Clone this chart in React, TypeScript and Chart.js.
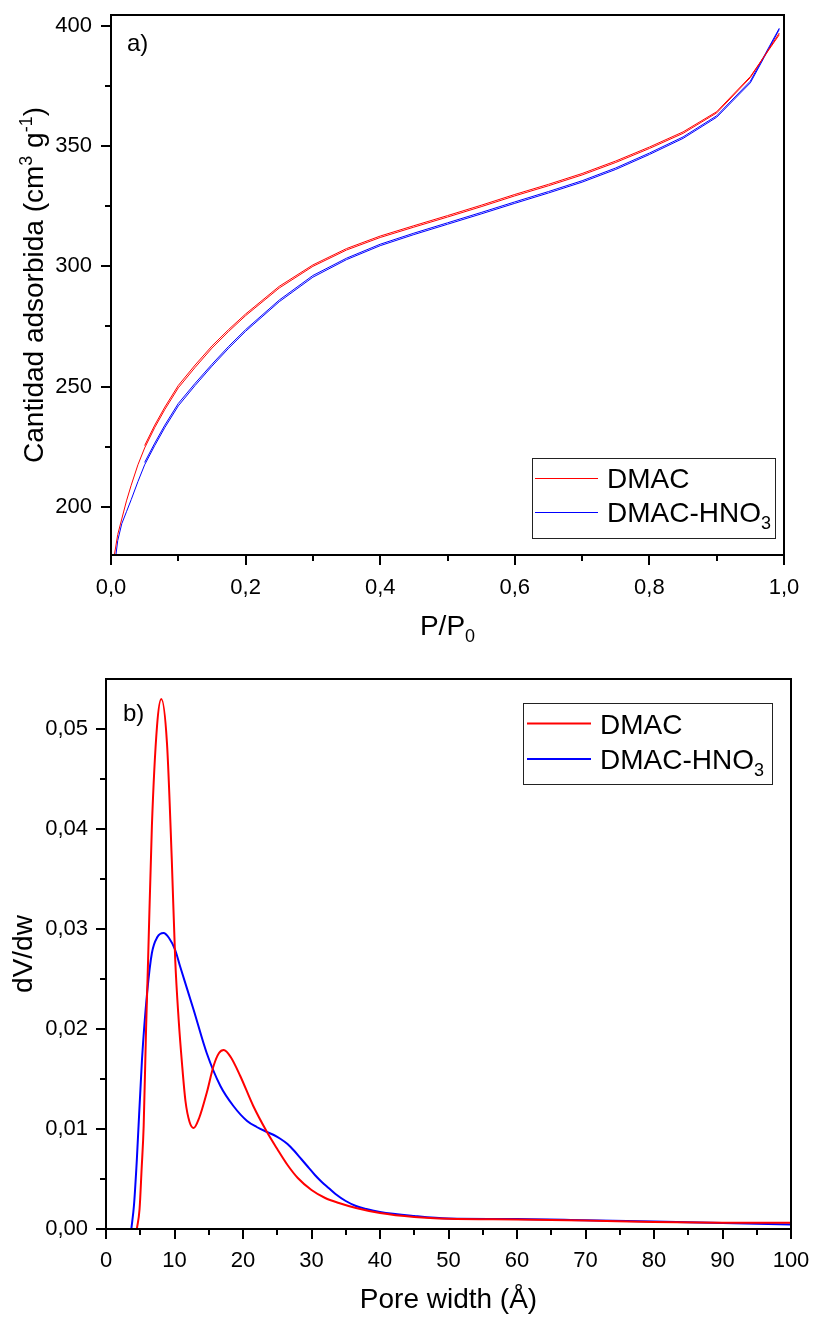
import React, { useEffect, useRef } from 'react';
import { Chart, registerables } from 'chart.js';

Chart.register(...registerables);

const FONT = "'Liberation Sans', Arial, Helvetica, sans-serif";

// ---------- Panel a) N2 isotherms ----------
const isoP = [0.005, 0.01, 0.016, 0.023, 0.03, 0.04, 0.05, 0.065, 0.08, 0.1, 0.125, 0.15, 0.175, 0.2, 0.25, 0.3, 0.35, 0.4, 0.45, 0.5, 0.55, 0.6, 0.65, 0.7, 0.75, 0.8, 0.85, 0.9, 0.95, 0.993];
const dmacAds = [180, 188.5, 195, 202.5, 209, 217.5, 224.5, 233, 240.5, 249.5, 258, 266, 273, 279.5, 291, 300, 306.8, 312, 316.3, 320.5, 324.8, 329.3, 333.5, 338, 343.2, 349, 355.3, 363.8, 378.5, 397];
const hno3Ads = [175, 186, 193, 198, 203, 210.5, 217.5, 225.5, 233, 242, 250.5, 258.5, 266, 273, 285.3, 295.5, 302.8, 308.6, 313.2, 317.5, 321.8, 326.2, 330.5, 335, 340.3, 346.5, 353.2, 362, 376.3, 398.5];
const isoPDes = [0.05, 0.065, 0.08, 0.1, 0.125, 0.15, 0.175, 0.2, 0.25, 0.3, 0.35, 0.4, 0.45, 0.5, 0.55, 0.6, 0.65, 0.7, 0.75, 0.8, 0.85, 0.9, 0.95, 0.993];
const dmacDes = [225.5, 234, 241.5, 250.5, 259, 266.9, 273.8, 280.2, 291.7, 300.6, 307.4, 312.6, 316.9, 321.1, 325.4, 329.9, 334.1, 338.6, 343.8, 349.6, 355.9, 364.3, 378.9, 396.3];
const hno3Des = [218.5, 226.5, 234, 243, 251.4, 259.3, 266.8, 273.7, 286, 296.2, 303.4, 309.2, 313.8, 318.1, 322.4, 326.8, 331.1, 335.6, 340.9, 347.1, 353.8, 362.6, 377, 399];

const isoXTicks = [0, 0.2, 0.4, 0.6, 0.8, 1.0];
const isoXMinor = [0.1, 0.3, 0.5, 0.7, 0.9];
const isoYTicks = [200, 250, 300, 350, 400];
const isoYMinor = [225, 275, 325, 375];

// ---------- Panel b) pore size distribution ----------
const poreDmac = [4.5, 4.9, 5.2, 5.5, 5.85, 6.15, 6.7, 7.45, 8.07, 8.9, 9.6, 10.1, 10.6, 11.1, 11.6, 12.2, 12.8, 13.6, 14.7, 15.7, 16.5, 17.2, 18.2, 19.6, 21.5, 23.5, 25, 26.5, 28, 30, 32, 34, 36.5, 40, 45, 50, 60, 70, 80, 90, 100];
const dvdwDmac = [0, 0.002, 0.006, 0.0103, 0.02, 0.027, 0.0403, 0.0503, 0.053, 0.0486, 0.037, 0.027, 0.021, 0.0165, 0.0128, 0.0107, 0.0101, 0.0111, 0.0136, 0.0163, 0.0176, 0.0179, 0.0172, 0.0153, 0.0123, 0.0097, 0.008, 0.0064, 0.0051, 0.0039, 0.0031, 0.0026, 0.0021, 0.0016, 0.0012, 0.00102, 0.00095, 0.00085, 0.0007, 0.00063, 0.00062];
const poreHno3 = [3.7, 4.1, 4.5, 5.25, 6.0, 6.7, 7.5, 8.4, 9.2, 10.1, 10.8, 12.8, 14.7, 16.7, 18.6, 20.6, 22, 23.5, 24.5, 25.5, 26.5, 27.5, 28.5, 29.5, 30.5, 31.5, 32.5, 33.5, 35, 36.5, 38, 40, 45, 50, 60, 70, 80, 90, 100];
const dvdwHno3 = [0, 0.0025, 0.0069, 0.0169, 0.0236, 0.0276, 0.0292, 0.0296, 0.0291, 0.0279, 0.0263, 0.0219, 0.0176, 0.0143, 0.0123, 0.0108, 0.0102, 0.0097, 0.0094, 0.009, 0.0085, 0.0078, 0.007, 0.0062, 0.0054, 0.0047, 0.0041, 0.0035, 0.0028, 0.0023, 0.002, 0.0017, 0.0013, 0.00105, 0.001, 0.00088, 0.00075, 0.0006, 0.00045];

const psdXTicks = [0, 10, 20, 30, 40, 50, 60, 70, 80, 90, 100];
const psdXMinor = [5, 15, 25, 35, 45, 55, 65, 75, 85, 95];
const psdYTicks = [0, 0.01, 0.02, 0.03, 0.04, 0.05];
const psdYMinor = [0.005, 0.015, 0.025, 0.035, 0.045];

const seriesNames = ['DMAC', 'DMAC-HNO'];
const RED = '#ff0000';
const BLUE = '#0000ff';

type Run = { t: string; s?: 'sup' | 'sub' };

function drawRuns(ctx: CanvasRenderingContext2D, runs: Run[], x: number, y: number, size: number, align: 'left' | 'center') {
  const small = Math.round(size * 0.65);
  const widths = runs.map((r) => {
    ctx.font = `${r.s ? small : size}px ${FONT}`;
    return ctx.measureText(r.t).width;
  });
  const total = widths.reduce((a, b) => a + b, 0);
  let cx = align === 'center' ? x - total / 2 : x;
  ctx.textAlign = 'left';
  ctx.textBaseline = 'alphabetic';
  runs.forEach((r, i) => {
    ctx.font = `${r.s ? small : size}px ${FONT}`;
    const dy = r.s === 'sup' ? -size * 0.38 : r.s === 'sub' ? size * 0.24 : 0;
    ctx.fillText(r.t, cx, y + dy);
    cx += widths[i];
  });
}

interface LegendItem { color: string; y: number; baseline: number; runs: Run[] }
interface Deco {
  xMajor: number[]; xMinor: number[]; yMajor: number[]; yMinor: number[];
  xTitle: Run[]; xTitleX: number; xTitleY: number;
  yTitle: Run[]; yTitleX: number; yTitleY: number;
  titleSize: number;
  label: string; labelX: number; labelY: number;
  box: [number, number, number, number];
  lineX: [number, number]; textX: number; lineW: number;
  items: LegendItem[];
}

function makeDeco(d: Deco) {
  return {
    id: 'deco',
    afterDraw(chart: any) {
      const ctx: CanvasRenderingContext2D = chart.ctx;
      const a = chart.chartArea;
      const xs = chart.scales.x;
      const ys = chart.scales.y;
      ctx.save();
      ctx.strokeStyle = '#000';
      ctx.lineWidth = 2;
      ctx.lineCap = 'butt';
      ctx.strokeRect(a.left, a.top, a.right - a.left, a.bottom - a.top);
      ctx.beginPath();
      d.xMajor.forEach((v) => { const p = Math.round(xs.getPixelForValue(v)); ctx.moveTo(p, a.bottom); ctx.lineTo(p, a.bottom + 10); });
      d.xMinor.forEach((v) => { const p = Math.round(xs.getPixelForValue(v)); ctx.moveTo(p, a.bottom); ctx.lineTo(p, a.bottom + 6); });
      d.yMajor.forEach((v) => { const p = Math.round(ys.getPixelForValue(v)); ctx.moveTo(a.left, p); ctx.lineTo(a.left - 10, p); });
      d.yMinor.forEach((v) => { const p = Math.round(ys.getPixelForValue(v)); ctx.moveTo(a.left, p); ctx.lineTo(a.left - 6, p); });
      ctx.stroke();

      ctx.fillStyle = '#000';
      // axis titles
      drawRuns(ctx, d.xTitle, d.xTitleX, d.xTitleY, d.titleSize, 'center');
      ctx.save();
      ctx.translate(d.yTitleX, d.yTitleY);
      ctx.rotate(-Math.PI / 2);
      drawRuns(ctx, d.yTitle, 0, 0, d.titleSize, 'center');
      ctx.restore();
      // panel label
      drawRuns(ctx, [{ t: d.label }], d.labelX, d.labelY, 24, 'left');
      // legend
      const [x0, y0, x1, y1] = d.box;
      ctx.lineWidth = 1;
      ctx.strokeStyle = '#222';
      ctx.strokeRect(x0 + 0.5, y0 + 0.5, x1 - x0, y1 - y0);
      d.items.forEach((it) => {
        ctx.strokeStyle = it.color;
        ctx.lineWidth = d.lineW;
        ctx.beginPath();
        ctx.moveTo(d.lineX[0], it.y);
        ctx.lineTo(d.lineX[1], it.y);
        ctx.stroke();
        ctx.fillStyle = '#000';
        drawRuns(ctx, it.runs, d.textX, it.baseline, 28, 'left');
      });
      ctx.restore();
    },
  };
}

const fmt = (digits: number) => (v: any) => Number(v).toFixed(digits).replace('.', ',');

function tickFont() {
  return { family: FONT, size: 22 };
}

function fitX(h: number) {
  return (s: any) => { s.height = h; s.paddingLeft = 0; s.paddingRight = 0; s.paddingTop = 0; s.paddingBottom = 0; };
}
function fitY(w: number) {
  return (s: any) => { s.width = w; s.paddingLeft = 0; s.paddingRight = 0; s.paddingTop = 0; s.paddingBottom = 0; };
}

function configA(): any {
  const pts = (xs: number[], ys: number[]) => xs.map((x, i) => ({ x, y: ys[i] }));
  const line = (label: string, data: any[], color: string) => ({
    label, data, borderColor: color, backgroundColor: color, borderWidth: 1, pointRadius: 0, tension: 0, fill: false,
  });
  return {
    type: 'line',
    data: {
      datasets: [
        line('DMAC', pts(isoP, dmacAds), RED),
        line('DMAC (des)', pts(isoPDes, dmacDes), RED),
        line('DMAC-HNO3', pts(isoP, hno3Ads), BLUE),
        line('DMAC-HNO3 (des)', pts(isoPDes, hno3Des), BLUE),
      ],
    },
    options: {
      responsive: false,
      animation: false,
      devicePixelRatio: 1,
      layout: { padding: { left: 0, top: 15, right: 31, bottom: 0 } },
      plugins: { legend: { display: false }, tooltip: { enabled: false }, title: { display: false } },
      scales: {
        x: {
          type: 'linear', min: 0, max: 1,
          afterBuildTicks: (s: any) => { s.ticks = isoXTicks.map((value) => ({ value })); },
          afterFit: fitX(105),
          grid: { display: false, drawTicks: false },
          border: { display: false },
          ticks: { color: '#000', font: tickFont(), padding: 20, maxRotation: 0, autoSkip: false, callback: fmt(1) },
        },
        y: {
          type: 'linear', min: 180, max: 404.5,
          afterBuildTicks: (s: any) => { s.ticks = isoYTicks.map((value) => ({ value })); },
          afterFit: fitY(111),
          grid: { display: false, drawTicks: false },
          border: { display: false },
          ticks: { color: '#000', font: tickFont(), padding: 19, autoSkip: false, callback: (v: any) => String(v) },
        },
      },
    },
    plugins: [
      makeDeco({
        xMajor: isoXTicks, xMinor: isoXMinor, yMajor: isoYTicks, yMinor: isoYMinor,
        xTitle: [{ t: 'P/P' }, { t: '0', s: 'sub' }], xTitleX: 447.5, xTitleY: 635,
        yTitle: [{ t: 'Cantidad adsorbida (cm' }, { t: '3', s: 'sup' }, { t: ' g' }, { t: '-1', s: 'sup' }, { t: ')' }],
        yTitleX: 43, yTitleY: 285, titleSize: 28,
        label: 'a)', labelX: 127, labelY: 51,
        box: [532, 458, 775, 538], lineX: [535, 598], textX: 607, lineW: 1,
        items: [
          { color: RED, y: 478.5, baseline: 488, runs: [{ t: seriesNames[0] }] },
          { color: BLUE, y: 512.5, baseline: 522, runs: [{ t: seriesNames[1] }, { t: '3', s: 'sub' }] },
        ],
      }),
    ],
  };
}

function configB(): any {
  const pts = (xs: number[], ys: number[]) => xs.map((x, i) => ({ x, y: ys[i] }));
  const line = (label: string, data: any[], color: string) => ({
    label, data, borderColor: color, backgroundColor: color, borderWidth: 2, pointRadius: 0,
    cubicInterpolationMode: 'monotone', fill: false,
  });
  return {
    type: 'line',
    data: {
      datasets: [
        line('DMAC', pts(poreDmac, dvdwDmac), RED),
        line('DMAC-HNO3', pts(poreHno3, dvdwHno3), BLUE),
      ],
    },
    options: {
      responsive: false,
      animation: false,
      devicePixelRatio: 1,
      layout: { padding: { left: 0, top: 19, right: 24, bottom: 0 } },
      plugins: { legend: { display: false }, tooltip: { enabled: false }, title: { display: false } },
      scales: {
        x: {
          type: 'linear', min: 0, max: 100,
          afterBuildTicks: (s: any) => { s.ticks = psdXTicks.map((value) => ({ value })); },
          afterFit: fitX(89),
          grid: { display: false, drawTicks: false },
          border: { display: false },
          ticks: { color: '#000', font: tickFont(), padding: 19, maxRotation: 0, autoSkip: false, callback: (v: any) => String(v) },
        },
        y: {
          type: 'linear', min: 0, max: 0.055,
          afterBuildTicks: (s: any) => { s.ticks = psdYTicks.map((value) => ({ value })); },
          afterFit: fitY(106),
          grid: { display: false, drawTicks: false },
          border: { display: false },
          ticks: { color: '#000', font: tickFont(), padding: 18, autoSkip: false, callback: fmt(2) },
        },
      },
    },
    plugins: [
      makeDeco({
        xMajor: psdXTicks, xMinor: psdXMinor, yMajor: psdYTicks, yMinor: psdYMinor,
        xTitle: [{ t: 'Pore width (Å)' }], xTitleX: 448.5, xTitleY: 648,
        yTitle: [{ t: 'dV/dw' }], yTitleX: 32, yTitleY: 294, titleSize: 28,
        label: 'b)', labelX: 123, labelY: 61,
        box: [523, 43, 772, 124], lineX: [527, 591], textX: 600, lineW: 2,
        items: [
          { color: RED, y: 63.5, baseline: 74, runs: [{ t: seriesNames[0] }] },
          { color: BLUE, y: 99, baseline: 109, runs: [{ t: seriesNames[1] }, { t: '3', s: 'sub' }] },
        ],
      }),
    ],
  };
}

function Panel({ make, top, height }: { make: () => any; top: number; height: number }) {
  const ref = useRef<HTMLCanvasElement>(null);
  useEffect(() => {
    const chart = new Chart(ref.current as HTMLCanvasElement, make());
    return () => chart.destroy();
  }, [make]);
  return (
    <canvas
      ref={ref}
      width={815}
      height={height}
      style={{ position: 'absolute', left: 0, top, width: 815, height, display: 'block' }}
    />
  );
}

export default function App() {
  return (
    <div style={{ position: 'absolute', left: 0, top: 0, width: 815, height: 1318, background: '#fff', overflow: 'hidden' }}>
      <Panel make={configA} top={0} height={660} />
      <Panel make={configB} top={660} height={658} />
    </div>
  );
}
